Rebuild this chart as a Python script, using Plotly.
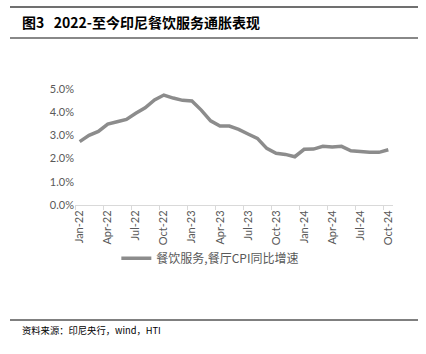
import plotly.graph_objects as go

months = ["Jan-22","Feb-22","Mar-22","Apr-22","May-22","Jun-22","Jul-22","Aug-22","Sep-22","Oct-22","Nov-22","Dec-22",
          "Jan-23","Feb-23","Mar-23","Apr-23","May-23","Jun-23","Jul-23","Aug-23","Sep-23","Oct-23","Nov-23","Dec-23",
          "Jan-24","Feb-24","Mar-24","Apr-24","May-24","Jun-24","Jul-24","Aug-24","Sep-24","Oct-24"]
cpi = [2.73,3.00,3.17,3.49,3.59,3.69,3.95,4.19,4.53,4.74,4.61,4.51,
       4.48,4.09,3.63,3.40,3.40,3.26,3.06,2.87,2.44,2.23,2.18,2.08,
       2.40,2.41,2.53,2.50,2.53,2.34,2.31,2.27,2.27,2.38]
series_name = "餐饮服务,餐厅CPI同比增速"
title_text = "图3   2022-至今印尼餐饮服务通胀表现"
source_text = "资料来源：印尼央行，wind，HTI"
y_ticks = [0, 1, 2, 3, 4, 5]

xs = list(range(len(months)))
label_idx = xs[::3]
bound_idx = [i - 0.5 for i in label_idx]

FONT = "Lato, Noto Sans CJK SC, sans-serif"
CJK = "Noto Sans CJK SC, sans-serif"

fig = go.Figure()
fig.add_trace(go.Scatter(x=xs, y=cpi, mode="lines", name=series_name,
                         line=dict(color="#8c8c8c", width=3.5)))

fig.update_layout(
    width=426, height=354,
    margin=dict(l=75, r=33, t=89, b=149),
    paper_bgcolor="white", plot_bgcolor="white",
    font=dict(family=FONT, color="#595959", size=11),
    showlegend=True,
    legend=dict(orientation="h", x=0.13, xanchor="left", y=-0.46, yanchor="middle",
                font=dict(family=CJK, size=12, color="#595959"),
                bgcolor="rgba(0,0,0,0)"),
    xaxis=dict(range=[-0.5, len(months) - 0.5], tickmode="array",
               tickvals=label_idx, ticktext=[months[i] for i in label_idx],
               tickangle=-90, ticks="", showgrid=False, zeroline=False,
               showline=True, linecolor="#d9d9d9", linewidth=1,
               tickfont=dict(size=11, color="#595959"),
               minor=dict(tickmode="array", tickvals=bound_idx + [len(months) - 1.5],
                          ticks="outside", ticklen=4, tickcolor="#d9d9d9", showgrid=False)),
    yaxis=dict(range=[0, 5], tickmode="array", tickvals=y_ticks,
               ticktext=[f"{v:.1f}%" for v in y_ticks],
               showgrid=False, zeroline=False, showline=False, ticks="",
               tickfont=dict(size=11, color="#595959")),
)

# title and frame lines
fig.add_shape(type="line", xref="paper", yref="paper", x0=-65/318, x1=343/318,
              y0=1 + (89 - 7) / 116, y1=1 + (89 - 7) / 116, line=dict(color="#404040", width=1.5))
fig.add_shape(type="line", xref="paper", yref="paper", x0=-65/318, x1=343/318,
              y0=1 + (89 - 38) / 116, y1=1 + (89 - 38) / 116, line=dict(color="#888888", width=2))
fig.add_shape(type="line", xref="paper", yref="paper", x0=-65/318, x1=343/318,
              y0=-(320 - 205) / 116, y1=-(320 - 205) / 116, line=dict(color="#000000", width=1))

fig.add_annotation(text="<b>" + title_text + "</b>", xref="paper", yref="paper",
                   x=-55/318, y=1 + (89 - 22) / 116, xanchor="left", yanchor="middle",
                   showarrow=False, font=dict(family=CJK, size=14, color="#000000"))
fig.add_annotation(text=source_text, xref="paper", yref="paper",
                   x=-55/318, y=-(330 - 205) / 116, xanchor="left", yanchor="middle",
                   showarrow=False, font=dict(family=CJK, size=9.3, color="#000000"))

fig.write_html("out.html")
